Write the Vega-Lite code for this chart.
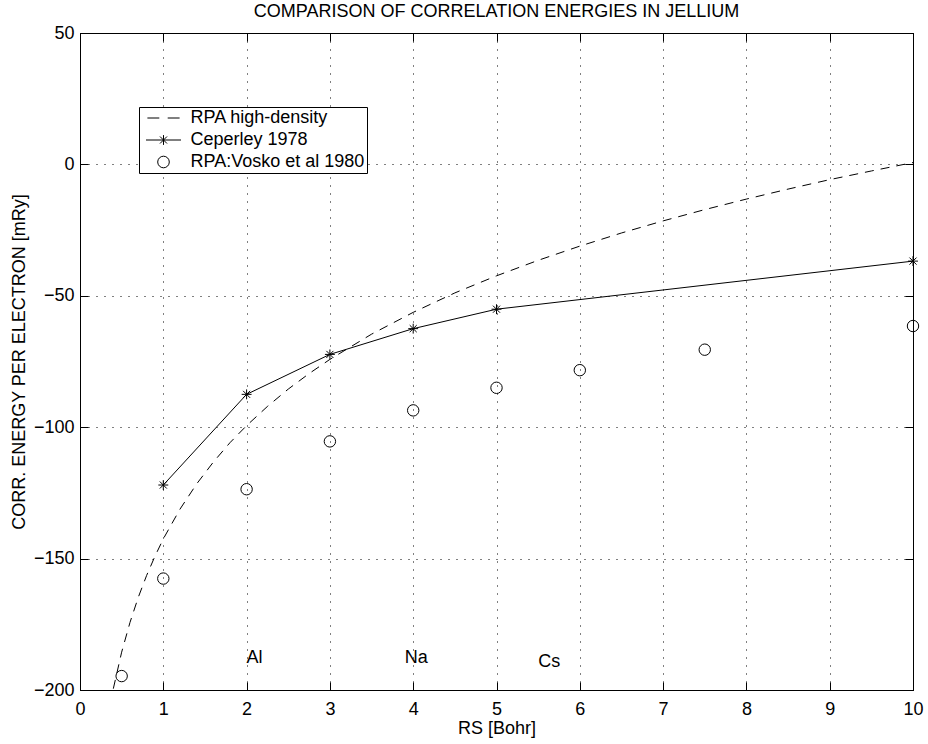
{
  "$schema": "https://vega.github.io/schema/vega-lite/v6.json",
  "autosize": {"type": "none"},
  "padding": {"left": 80, "top": 33, "right": 15, "bottom": 54},
  "width": 833,
  "height": 657,
  "background": "white",
  "title": {
    "text": "COMPARISON OF CORRELATION ENERGIES IN JELLIUM",
    "fontSize": 18,
    "fontWeight": "normal",
    "font": "Liberation Sans",
    "color": "black",
    "anchor": "middle",
    "offset": 3
  },
  "config": {
    "font": "Liberation Sans",
    "view": {"stroke": "black", "strokeWidth": 1},
    "axis": {
      "labelFont": "Liberation Sans",
      "labelFontSize": 18,
      "labelColor": "black",
      "labelFlush": false,
      "titleFont": "Liberation Sans",
      "titleFontSize": 18,
      "titleFontWeight": "normal",
      "titleColor": "black",
      "domainColor": "black",
      "tickColor": "black",
      "tickSize": -8,
      "tickWidth": 1,
      "gridColor": "black",
      "gridOpacity": 1,
      "gridDash": [1, 7],
      "gridWidth": 1
    }
  },
  "datasets": {
    "rpa": [
      {"rs": 0.4, "ec": -199.5}, {"rs": 0.5, "ec": -185.6}, {"rs": 0.6, "ec": -174.3},
      {"rs": 0.7, "ec": -164.7}, {"rs": 0.8, "ec": -156.4}, {"rs": 0.9, "ec": -149.1},
      {"rs": 1.0, "ec": -142.5}, {"rs": 1.2, "ec": -131.2}, {"rs": 1.4, "ec": -121.6},
      {"rs": 1.6, "ec": -113.3}, {"rs": 1.8, "ec": -105.9}, {"rs": 2.0, "ec": -99.4},
      {"rs": 2.25, "ec": -92.1}, {"rs": 2.5, "ec": -85.5}, {"rs": 2.75, "ec": -79.6},
      {"rs": 3.0, "ec": -74.2}, {"rs": 3.5, "ec": -64.6}, {"rs": 4.0, "ec": -56.3},
      {"rs": 4.5, "ec": -48.9}, {"rs": 5.0, "ec": -42.4}, {"rs": 5.5, "ec": -36.5},
      {"rs": 6.0, "ec": -31.1}, {"rs": 6.5, "ec": -26.1}, {"rs": 7.0, "ec": -21.5},
      {"rs": 7.5, "ec": -17.2}, {"rs": 8.0, "ec": -13.2}, {"rs": 8.5, "ec": -9.4},
      {"rs": 9.0, "ec": -5.8}, {"rs": 9.5, "ec": -2.5}, {"rs": 10.0, "ec": 0.7}
    ],
    "pts": [
      {"series": "Ceperley 1978", "rs": 1, "ec": -122},
      {"series": "Ceperley 1978", "rs": 2, "ec": -87.5},
      {"series": "Ceperley 1978", "rs": 3, "ec": -72.3},
      {"series": "Ceperley 1978", "rs": 4, "ec": -62.5},
      {"series": "Ceperley 1978", "rs": 5, "ec": -55.1},
      {"series": "Ceperley 1978", "rs": 10, "ec": -36.8},
      {"series": "RPA:Vosko et al 1980", "rs": 0.5, "ec": -194.7},
      {"series": "RPA:Vosko et al 1980", "rs": 1, "ec": -157.6},
      {"series": "RPA:Vosko et al 1980", "rs": 2, "ec": -123.6},
      {"series": "RPA:Vosko et al 1980", "rs": 3, "ec": -105.4},
      {"series": "RPA:Vosko et al 1980", "rs": 4, "ec": -93.6},
      {"series": "RPA:Vosko et al 1980", "rs": 5, "ec": -85},
      {"series": "RPA:Vosko et al 1980", "rs": 6, "ec": -78.3},
      {"series": "RPA:Vosko et al 1980", "rs": 7.5, "ec": -70.5},
      {"series": "RPA:Vosko et al 1980", "rs": 10, "ec": -61.5}
    ],
    "labels": [
      {"rs": 2.0, "ec": -188, "label": "Al"},
      {"rs": 3.9, "ec": -188, "label": "Na"},
      {"rs": 5.5, "ec": -189.5, "label": "Cs"}
    ]
  },
  "layer": [
    {
      "data": {"name": "rpa"},
      "mark": {"type": "line", "color": "black", "strokeWidth": 1, "strokeDash": [9, 7], "clip": true},
      "encoding": {
        "x": {"field": "rs", "type": "quantitative",
              "scale": {"domain": [0, 10], "nice": false, "zero": false},
              "axis": {"orient": "bottom", "values": [0,1,2,3,4,5,6,7,8,9,10], "title": "RS [Bohr]",
                       "grid": true, "domain": true, "labelPadding": 18, "titlePadding": 1, "format": "d"}},
        "y": {"field": "ec", "type": "quantitative",
              "scale": {"domain": [-200, 50], "nice": false, "zero": false},
              "axis": {"orient": "left", "values": [-200,-150,-100,-50,0,50], "title": "CORR. ENERGY PER ELECTRON [mRy]",
                       "grid": true, "domain": true, "labelPadding": 14, "titlePadding": 5, "format": "d"}}
      }
    },
    {
      "data": {"name": "pts"},
      "transform": [{"filter": "datum.series === 'Ceperley 1978'"}],
      "mark": {"type": "line", "color": "black", "strokeWidth": 1, "clip": true},
      "encoding": {
        "x": {"field": "rs", "type": "quantitative", "axis": null},
        "y": {"field": "ec", "type": "quantitative", "axis": null}
      }
    },
    {
      "data": {"name": "pts"},
      "transform": [{"filter": "datum.series === 'Ceperley 1978'"}],
      "mark": {"type": "point", "filled": false, "stroke": "black", "strokeWidth": 1, "size": 121, "opacity": 1,
               "shape": "M0,-0.9L0,0.9M-0.9,0L0.9,0M-0.64,-0.64L0.64,0.64M-0.64,0.64L0.64,-0.64"},
      "encoding": {
        "x": {"field": "rs", "type": "quantitative", "axis": null},
        "y": {"field": "ec", "type": "quantitative", "axis": null}
      }
    },
    {
      "data": {"name": "pts"},
      "transform": [{"filter": "datum.series === 'RPA:Vosko et al 1980'"}],
      "mark": {"type": "point", "filled": false, "stroke": "black", "strokeWidth": 1, "size": 130, "opacity": 1, "shape": "circle"},
      "encoding": {
        "x": {"field": "rs", "type": "quantitative", "axis": null},
        "y": {"field": "ec", "type": "quantitative", "axis": null}
      }
    },
    {
      "data": {"name": "pts"},
      "transform": [{"filter": "datum.rs < 0"}],
      "mark": {"type": "point", "filled": false, "stroke": "black", "strokeWidth": 1, "size": 196, "opacity": 1},
      "encoding": {
        "x": {"field": "rs", "type": "quantitative", "axis": null},
        "y": {"field": "ec", "type": "quantitative", "axis": null},
        "shape": {
          "field": "series", "type": "nominal",
          "scale": {
            "domain": ["RPA high-density", "Ceperley 1978", "RPA:Vosko et al 1980"],
            "range": [
              "M-2.3,0L-0.6,0M0.6,0L2.3,0",
              "M-2.5,0L2.5,0M0,-0.7L0,0.7M-0.5,-0.5L0.5,0.5M-0.5,0.5L0.5,-0.5",
              "M0.83,0A0.83,0.83 0 1,1 -0.83,0A0.83,0.83 0 1,1 0.83,0Z"
            ]
          },
          "legend": {
            "title": null,
            "orient": "none",
            "legendX": 59,
            "legendY": 74,
            "direction": "vertical",
            "padding": 2,
            "strokeColor": "black",
            "fillColor": "white",
            "cornerRadius": 0,
            "labelFont": "Liberation Sans",
            "labelFontSize": 18,
            "labelColor": "black",
            "labelOffset": 18,
            "labelLimit": 400,
            "symbolSize": 196,
            "symbolOffset": 13.5,
            "symbolStrokeWidth": 1,
            "symbolStrokeColor": "black",
            "symbolFillColor": "transparent",
            "symbolOpacity": 1,
            "rowPadding": 4
          }
        }
      }
    },
    {
      "data": {"name": "labels"},
      "mark": {"type": "text", "align": "left", "baseline": "middle", "fontSize": 18, "font": "Liberation Sans", "color": "black"},
      "encoding": {
        "x": {"field": "rs", "type": "quantitative",
              "axis": {"orient": "top", "values": [0,1,2,3,4,5,6,7,8,9,10], "labels": false, "grid": false, "title": null, "domain": true, "ticks": true, "tickSize": -8}},
        "y": {"field": "ec", "type": "quantitative",
              "axis": {"orient": "right", "values": [-200,-150,-100,-50,0,50], "labels": false, "grid": false, "title": null, "domain": true, "ticks": true, "tickSize": -8}},
        "text": {"field": "label", "type": "nominal"}
      }
    }
  ]
}
